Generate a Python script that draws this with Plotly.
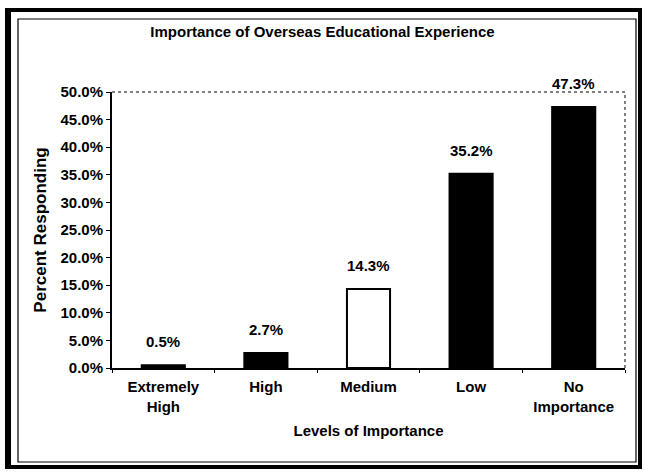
import plotly.graph_objects as go

categories = ["Extremely<br>High", "High", "Medium", "Low", "No<br>Importance"]
values = [0.5, 2.7, 14.3, 35.2, 47.3]
labels = ["0.5%", "2.7%", "14.3%", "35.2%", "47.3%"]
tick_vals = [0, 5, 10, 15, 20, 25, 30, 35, 40, 45, 50]
tick_text = ["0.0%", "5.0%", "10.0%", "15.0%", "20.0%", "25.0%", "30.0%", "35.0%", "40.0%", "45.0%", "50.0%"]
fill_colors = ["black", "black", "white", "black", "black"]

W, H = 645, 472
L, R, T, B = 112, 20, 92, 104
pw, ph = W - L - R, H - T - B

def px(x):
    return (x - L) / pw

def py(y):
    return (H - B - y) / ph

FONT = "Liberation Sans, Arial, sans-serif"
FS = 15

fig = go.Figure(go.Bar(
    x=categories, y=values,
    marker=dict(color=fill_colors, line=dict(color="black", width=2)),
    width=0.42,
))

annotations = [
    dict(x=c, y=v, xref="x", yref="y", text="<b>%s</b>" % t, showarrow=False,
         yanchor="bottom", yshift=13, font=dict(family=FONT, size=FS, color="black"))
    for c, v, t in zip(categories, values, labels)
]

shapes = [
    # outer thick frame
    dict(type="rect", xref="paper", yref="paper", x0=px(8), x1=px(640), y0=py(10), y1=py(467),
         line=dict(color="black", width=4)),
    dict(type="rect", xref="paper", yref="paper", x0=px(5), x1=px(11), y0=py(8), y1=py(469),
         fillcolor="black", line=dict(width=0)),
    # inner thin frame
    dict(type="rect", xref="paper", yref="paper", x0=px(18), x1=px(636), y0=py(19), y1=py(462),
         line=dict(color="black", width=1.2)),
    # dotted top and right borders of plot area
    dict(type="line", xref="paper", yref="paper", x0=0, x1=1, y0=1, y1=1,
         line=dict(color="black", width=1, dash="dot")),
    dict(type="line", xref="paper", yref="paper", x0=1, x1=1, y0=0, y1=1,
         line=dict(color="black", width=1, dash="dot")),
]

fig.update_layout(
    width=W, height=H,
    margin=dict(l=L, r=R, t=T, b=B),
    paper_bgcolor="white", plot_bgcolor="white",
    showlegend=False,
    font=dict(family=FONT, size=FS, color="black"),
    title=dict(text="<b>Importance of Overseas Educational Experience</b>",
               x=0.5, xref="container", xanchor="center", y=1 - 32 / H, yanchor="middle",
               font=dict(size=FS, family=FONT)),
    shapes=shapes,
    annotations=annotations,
    xaxis=dict(
        showline=True, linecolor="black", linewidth=2,
        tickfont=dict(family=FONT, size=FS),
        ticks="outside", tickson="boundaries", ticklen=3, tickcolor="black",
        ticklabelstandoff=4,
        showgrid=False,
        title=dict(text="<b>Levels of Importance</b>", font=dict(size=FS, family=FONT), standoff=12),
    ),
    yaxis=dict(
        range=[0, 50], tickvals=tick_vals, ticktext=["<b>%s</b>" % t for t in tick_text],
        showline=True, linecolor="black", linewidth=2,
        ticks="outside", ticklen=4, tickcolor="black",
        showgrid=False, zeroline=False,
        tickfont=dict(family=FONT, size=FS),
        title=dict(text="<b>Percent Responding</b>", font=dict(size=17, family=FONT), standoff=10),
    ),
)
fig.update_xaxes(ticktext=["<b>%s</b>" % c for c in categories], tickvals=categories)

fig.write_html("out.html", config={"displayModeBar": False},
               post_script="document.body.style.margin='0';")
